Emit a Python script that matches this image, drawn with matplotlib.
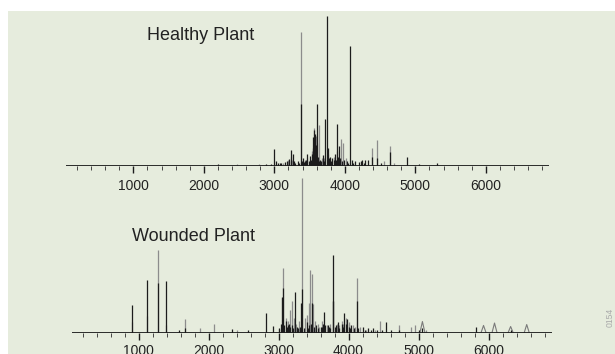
import numpy as np
import matplotlib
matplotlib.use("Agg")
import matplotlib.pyplot as plt

plt.rcParams['font.family'] = ['Liberation Sans', 'DejaVu Sans']

# peak lists: m/z position and relative intensity
healthy_black_mz = [2199, 2880, 2950, 3000, 3020, 3050, 3080, 3100, 3150, 3180, 3203, 3215,
                    3239, 3268, 3285, 3300, 3330, 3350, 3372, 3390, 3404, 3420, 3440, 3455,
                    3470, 3490, 3500, 3520, 3535, 3545, 3555, 3563, 3575, 3583, 3595, 3606,
                    3615, 3630, 3650, 3665, 3686, 3705, 3724, 3742, 3761, 3775, 3790, 3805,
                    3817, 3840, 3855, 3870, 3883, 3898, 3911, 3930, 3960, 3990, 4030, 4050,
                    4070, 4099, 4120, 4150, 4200, 4230, 4250, 4270, 4290, 4330, 4390, 4460,
                    4520, 4639, 4878, 5052, 5310]
healthy_black_int = [1.3, 1, 1, 11, 3, 2, 1.5, 2, 2.5, 3, 4.5, 3,
                     10.5, 8, 3, 2, 3, 2, 40.7, 3, 5, 2.5, 3, 4,
                     8, 3, 6.5, 4, 8, 18.7, 12, 24, 10, 21, 14, 40.7,
                     6, 3, 4, 3, 6.7, 3, 30.7, 100, 12, 5, 6, 3,
                     5.3, 4, 8, 4, 28, 6, 13.3, 5, 3, 4, 3, 2,
                     80, 4, 2, 3, 2.5, 3, 4, 2, 4, 3.5, 6, 5,
                     2, 9, 6, 1.3, 1.5]
healthy_gray_mz = [2470, 2779, 3030, 3120, 3195, 3230, 3250, 3372, 3430, 3460, 3530, 3557,
                   3590, 3610, 3630, 3670, 3700, 3760, 3840, 3890, 3944, 3977, 4010, 4390,
                   4460, 4560, 4639, 4700]
healthy_gray_int = [0.7, 1, 2, 2, 4, 6, 4, 88.7, 4, 5, 10, 25,
                    20, 15, 26.7, 5, 5, 8, 6, 10, 18, 14.7, 5, 12,
                    16.7, 3, 13, 2]

wounded_black_mz = [914, 1128, 1279, 1397, 1580, 1660, 2331, 2565, 2817, 2917, 3010, 3030,
                    3046, 3070, 3085, 3103, 3120, 3130, 3150, 3170, 3189, 3205, 3240, 3260,
                    3280, 3307, 3318, 3340, 3360, 3404, 3420, 3440, 3460, 3478, 3500, 3530,
                    3560, 3600, 3620, 3640, 3654, 3670, 3700, 3720, 3740, 3774, 3783, 3800,
                    3820, 3850, 3870, 3900, 3920, 3940, 3960, 3980, 4000, 4020, 4040, 4080,
                    4117, 4140, 4200, 4240, 4280, 4320, 4350, 4400, 4480, 4531, 4600, 4724,
                    5000, 5054, 5817, 6320]
wounded_black_int = [18.5, 35, 32.7, 34.5, 2, 3, 2.5, 1.5, 13, 4.5, 3, 6,
                     24, 30, 5, 8, 4, 5, 6, 4, 5, 3, 27, 4,
                     3, 4, 20, 29, 3, 7, 3, 5, 6, 20, 4, 5,
                     3, 4, 4, 6, 14, 5, 5, 4, 3, 21, 52, 4,
                     5, 7, 3, 6, 4, 13, 6, 9, 4, 3, 5, 3,
                     20.7, 3, 4, 2, 3, 2, 3, 2, 2, 7, 2, 2,
                     2, 3, 4, 2]
wounded_gray_mz = [914, 1128, 1279, 1397, 1660, 1879, 2079, 2400, 3000, 3046, 3060, 3100,
                   3130, 3160, 3189, 3220, 3250, 3290, 3335, 3376, 3410, 3430, 3447, 3475,
                   3490, 3520, 3560, 3580, 3620, 3690, 3730, 3783, 3830, 3860, 3900, 3920,
                   3964, 4000, 4011, 4060, 4090, 4120, 4170, 4250, 4380, 4455, 4724, 4890,
                   4950, 5100]
wounded_gray_int = [7.3, 11, 55, 5, 9.3, 2.7, 6, 1.5, 2.5, 22.7, 42.9, 10,
                    8, 14.7, 21.3, 10, 6, 8, 103.3, 10, 12, 20, 41.8, 39,
                    19.3, 8, 6, 4, 8, 5, 6, 20.7, 6, 5, 8, 6,
                    10, 6, 7.3, 5, 4, 36.2, 4, 2, 2, 8, 5.3, 4,
                    5.3, 2]
# broad low bumps at high mass
wounded_bump_mz = [5056, 5929, 6086, 6316, 6546]
wounded_bump_int = [7.3, 4.7, 6.3, 4.0, 5.3]

major_ticks = [1000, 2000, 3000, 4000, 5000, 6000]
tick_labels = ['1000', '2000', '3000', '4000', '5000', '6000']

W, H = 615, 354
fig = plt.figure(figsize=(W / 100, H / 100), dpi=100)
fig.patch.set_facecolor('white')

# pale green panel behind both spectra
bg = fig.add_axes([8 / W, 0, 1 - 8 / W, 1 - 11 / H], zorder=-1)
bg.set_facecolor('#e6ecdd')
bg.set_xticks([])
bg.set_yticks([])
for s in bg.spines.values():
    s.set_visible(False)

BLACK = '#1c1c1c'
GRAY = '#8c8c8c'


def make_axes(base_px, top_units, px_1000, px_per_1000, label_pad):
    # one stick spectrum; 1.5 px per intensity unit
    left_px, right_px = 40, 580
    ax = fig.add_axes([left_px / W, (H - base_px) / H,
                       (right_px - left_px) / W, top_units * 1.5 / H])
    ax.set_xlim(1000 + (left_px - px_1000) / px_per_1000 * 1000,
                1000 + (right_px - px_1000) / px_per_1000 * 1000)
    ax.set_ylim(0, top_units)
    ax.patch.set_alpha(0)
    for s in ax.spines.values():
        s.set_visible(False)
    ax.set_yticks([])
    ax.set_xticks(major_ticks)
    ax.set_xticklabels(tick_labels, fontsize=10, color='#222222')
    ax.set_xticks([m for m in range(200, 6801, 200) if m % 1000], minor=True)
    ax.tick_params(axis='x', which='major', direction='out', length=5,
                   width=1.0, color=BLACK, pad=label_pad)
    ax.tick_params(axis='x', which='minor', direction='out', length=2.8,
                   width=0.7, color='#444444')
    ax.hlines(0, 50, 6900, color=BLACK, lw=1.3, zorder=4)
    return ax


ax1 = make_axes(165.5, 100, 133.3, 70.5, 5)
ax1.vlines(healthy_gray_mz, 0, healthy_gray_int, color=GRAY, lw=0.9, zorder=2)
ax1.vlines(healthy_black_mz, 0, healthy_black_int, color=BLACK, lw=0.9, zorder=3)

ax2 = make_axes(332.5, 104, 138.5, 70.0, 3.6)
ax2.vlines(wounded_gray_mz, 0, wounded_gray_int, color=GRAY, lw=0.9, zorder=2)
ax2.vlines(wounded_black_mz, 0, wounded_black_int, color=BLACK, lw=0.9, zorder=3)
for c, h in zip(wounded_bump_mz, wounded_bump_int):
    ax2.plot([c - 35, c, c + 35], [0, h, 0], color='#7a7a7a', lw=0.8, zorder=2)

fig.text(147 / W, 1 - 40 / H, 'Healthy Plant', fontsize=13, color='#222222')
fig.text(132.5 / W, 1 - 240.7 / H, 'Wounded Plant', fontsize=13, color='#222222')
fig.text(610 / W, 1 - 317 / H, '0154', rotation=90, fontsize=6.2, color='#aaaaaa',
         ha='center', va='center')

fig.savefig('out.png', dpi=100)
